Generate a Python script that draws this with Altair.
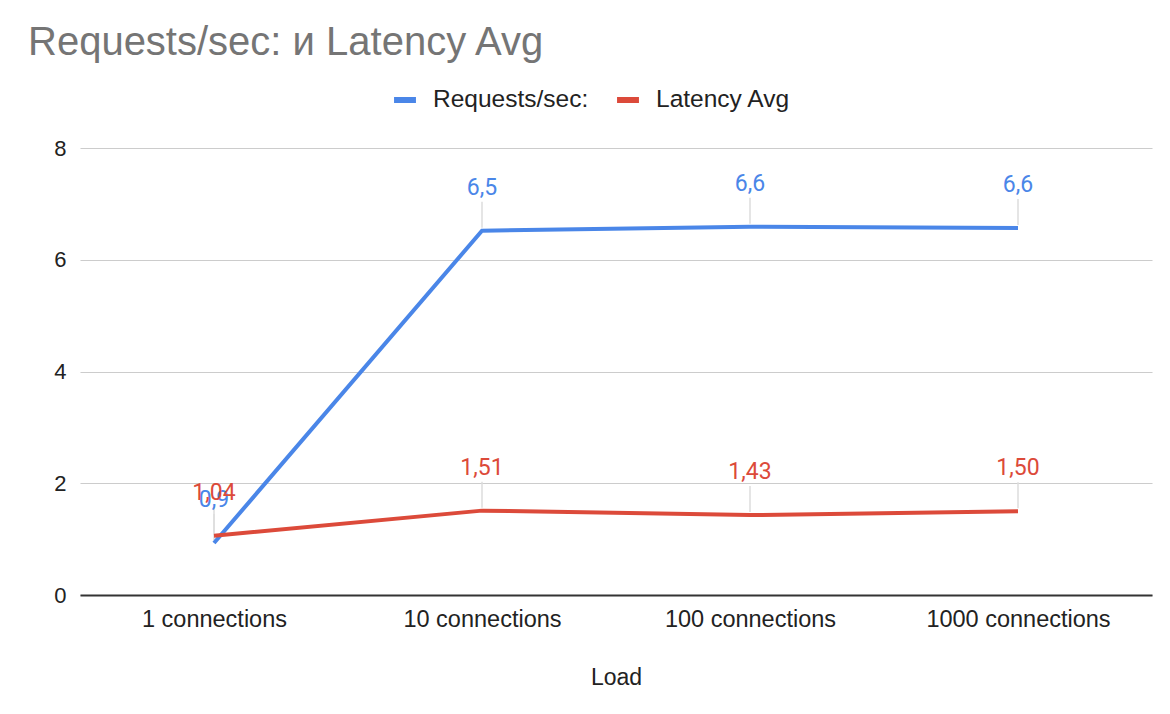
import altair as alt
import pandas as pd

categories = ["1 connections", "10 connections", "100 connections", "1000 connections"]
requests_sec = [0.93, 6.52, 6.59, 6.57]
latency_avg = [1.06, 1.51, 1.43, 1.50]
requests_labels = ["0,9", "6,5", "6,6", "6,6"]
latency_labels = ["1,04", "1,51", "1,43", "1,50"]
series_names = ["Requests/sec:", "Latency Avg"]
colors = ["#4a86e8", "#dc4a3a"]

rows = []
for name, vals, labs in [(series_names[0], requests_sec, requests_labels),
                         (series_names[1], latency_avg, latency_labels)]:
    for i, (c, v, l) in enumerate(zip(categories, vals, labs)):
        rows.append({"Load": c, "series": name, "value": v, "label": l, "order": i})
df = pd.DataFrame(rows)

FONT = "Liberation Sans"

x = alt.X("Load:N", sort=categories, scale=alt.Scale(type="point", padding=0.5),
          axis=alt.Axis(title="Load", labelAngle=0, labelFontSize=23.5, labelColor="#222",
                        labelFont=FONT, titleFont=FONT, titleFontSize=23,
                        titleFontWeight="normal", titleColor="#222", titlePadding=36,
                        labelPadding=12, labelLimit=400, ticks=False, domain=True,
                        domainColor="#333", domainWidth=2, grid=False))
y = alt.Y("value:Q", scale=alt.Scale(domain=[0, 8]),
          axis=alt.Axis(title=None, values=[0, 2, 4, 6, 8], labelFontSize=22,
                        labelFont=FONT, labelColor="#222", labelPadding=14,
                        ticks=False, domain=False, gridColor="#cccccc", gridWidth=1.2))
color = alt.Color("series:N", sort=series_names,
                  scale=alt.Scale(domain=series_names, range=colors),
                  legend=alt.Legend(title=None, orient="none", legendX=311, legendY=-62,
                                    direction="horizontal", symbolType="stroke",
                                    symbolStrokeWidth=6, symbolSize=480,
                                    labelFontSize=24.5, labelFont=FONT, labelColor="#222",
                                    labelOffset=14, columnPadding=16, labelLimit=400))

base = alt.Chart(df)

leaders = base.mark_rule(color="#dddddd", strokeWidth=1.5, yOffset=-3, y2Offset=-29).encode(
    x=x, y=y, y2="value:Q", detail="series:N")

lines = base.mark_line(strokeWidth=4).encode(x=x, y=y, color=color, order="order:Q")

labels = base.mark_text(dy=-36, baseline="alphabetic", fontSize=23, font="Roboto").encode(
    x=x, y=y, text="label:N",
    color=alt.Color("series:N", scale=alt.Scale(domain=series_names, range=colors), legend=None))

chart = alt.layer(leaders, lines, labels).properties(
    width=1072, height=447,
    title=alt.TitleParams("Requests/sec: и Latency Avg", anchor="start", frame="group",
                          fontSize=40, font=FONT, fontWeight="normal", color="#757575",
                          dx=-52, offset=23),
    autosize=alt.AutoSizeParams(type="none"),
    padding={"left": 72, "top": 140, "right": 2, "bottom": 108},
).configure_view(stroke=None)

chart.save("out.html", embed_options={"renderer": "svg", "actions": False})
